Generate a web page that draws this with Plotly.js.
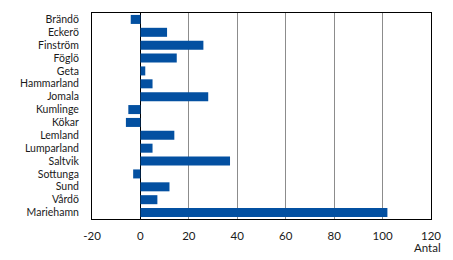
<!DOCTYPE html>
<html><head><meta charset="utf-8">
<script src="https://cdn.plot.ly/plotly-3.0.1.min.js"></script>
<style>html,body{margin:0;padding:0;background:#fff}#c{width:453px;height:260px}</style>
</head><body><div id="c"></div>
<script>
const categories = ["Brändö","Eckerö","Finström","Föglö","Geta","Hammarland","Jomala","Kumlinge","Kökar","Lemland","Lumparland","Saltvik","Sottunga","Sund","Vårdö","Mariehamn"];
const values = [-4, 11, 26, 15, 2, 5, 28, -5, -6, 14, 5, 37, -3, 12, 7, 102];
const xTicks = [-20, 0, 20, 40, 60, 80, 100, 120];
const unitLabel = "Antal";

const font = {family: "Lato, sans-serif", size: 11.5, color: "#1a1a1a"};
Plotly.newPlot("c", [{
  type: "bar", orientation: "h", x: values, y: categories,
  marker: {color: "#0350a1"}, hoverinfo: "none"
}], {
  width: 453, height: 260,
  margin: {l: 92, r: 22, t: 13, b: 41},
  bargap: 0.3,
  font: font,
  paper_bgcolor: "#fff", plot_bgcolor: "#fff",
  showlegend: false,
  xaxis: {
    range: [-20, 120], tickmode: "array", tickvals: xTicks, ticktext: xTicks.map(String),
    showgrid: true, gridcolor: "#8c8c8c", gridwidth: 1,
    zeroline: true, zerolinecolor: "#000", zerolinewidth: 1,
    showline: true, mirror: true, linecolor: "#000", linewidth: 1,
    ticks: "outside", ticklen: 6, tickcolor: "rgba(0,0,0,0)",
    fixedrange: true
  },
  yaxis: {
    autorange: "reversed", type: "category",
    tickmode: "array", tickvals: categories, ticktext: categories,
    tickfont: {family: "Lato, sans-serif", size: 10.5, color: "#1a1a1a"},
    showgrid: false, zeroline: false,
    showline: true, mirror: true, linecolor: "#000", linewidth: 1,
    ticks: "outside", ticklen: 10, tickcolor: "rgba(0,0,0,0)",
    fixedrange: true
  },
  annotations: [{
    text: unitLabel, xref: "paper", yref: "paper", x: 1.035, y: 0,
    xanchor: "right", yanchor: "top", yshift: -20, showarrow: false, font: font
  }]
}, {staticPlot: true, displayModeBar: false});
</script></body></html>
